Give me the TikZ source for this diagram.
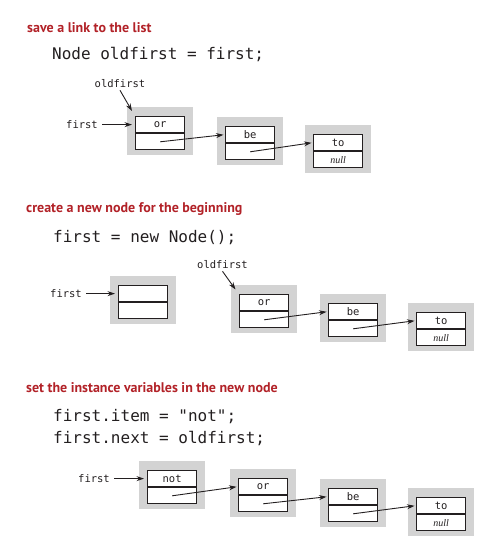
\documentclass[tikz,border=0pt]{standalone}
\usepackage{fontspec}
\usetikzlibrary{arrows.meta,calc}
\newfontfamily\titlefont{PT Sans}
\newfontfamily\codefont{DejaVu Sans Mono}
\newfontfamily\serfont{Liberation Serif}
\definecolor{titlered}{RGB}{178,34,40}
\definecolor{bggray}{RGB}{211,211,211}
\definecolor{ink}{RGB}{35,31,32}
\tikzset{
  titletext/.style={anchor=base west, inner sep=0, font=\titlefont\bfseries\fontsize{14}{16}\selectfont, text=titlered},
  codetext/.style={anchor=base west, inner sep=0, font=\codefont\fontsize{16}{19}\selectfont, text=ink},
  lbl/.style={inner sep=0, font=\codefont\fontsize{10.5}{12}\selectfont, text=ink},
  cell/.style={draw=ink, fill=white, line width=1.2pt, minimum width=49pt, minimum height=16pt, inner sep=0, font=\codefont\fontsize{10.5}{12}\selectfont, text=ink},
  bgbox/.style={fill=bggray, draw=none, inner sep=0, minimum width=66.5pt, minimum height=47.5pt, anchor=north west},
  ptr/.style={draw=ink, line width=0.9pt, -{Stealth[length=7.5pt,width=5pt]}},
}
\newcommand\nulltxt{{\serfont\itshape\fontsize{10}{11}\selectfont null}}
\newcommand\lnode[5]{%
  \node[bgbox] (#1bg) at (#2-8.5,#3-9) {};
  \node[cell, anchor=north west] (#1top) at (#2,#3) {#4};
  \node[cell, anchor=north] (#1bot) at (#1top.south) {#5};
}
\begin{document}
\begin{tikzpicture}[x=1pt,y=-1pt]
\useasboundingbox (0,0) rectangle (503,547);

% ---------- panel 1 ----------
\node[titletext] (t1) at (27,32) {save a link to the list};
\node[codetext] (c1) at (52,59) {Node oldfirst = first;};
\lnode{a1}{135}{116}{or}{}
\lnode{a2}{225}{126}{be}{}
\lnode{a3}{313}{134}{to}{\nulltxt}
\node[lbl] (o1) at (120,84) {oldfirst};
\node[lbl, anchor=east] (f1) at ([xshift=-37pt]a1top.west) {first};
\draw[ptr] ([yshift=-2pt]o1.south) -- ($(a1top.north west)+(-3,-5)$);
\draw[ptr, shorten <=4pt, shorten >=3pt] (f1.east) -- (a1top.west);
\draw[ptr, shorten >=1.5pt] (a1bot.center) -- (a2top.west);
\draw[ptr, shorten >=1.5pt] (a2bot.center) -- (a3top.west);

% ---------- panel 2 ----------
\node[titletext] (t2) at (26,212.5) {create a new node for the beginning};
\node[codetext] (c2) at (53,242) {first = new Node();};
\lnode{b0}{118}{285}{}{}
\lnode{b1}{239}{294}{or}{}
\lnode{b2}{328}{303}{be}{}
\lnode{b3}{416}{312}{to}{\nulltxt}
\node[lbl] (o2) at (222.5,265) {oldfirst};
\node[lbl, anchor=east] (f2) at ([xshift=-36pt]b0top.west) {first};
\draw[ptr] ([yshift=-2pt]o2.south) -- ($(b1top.north west)+(-3.5,-4.5)$);
\draw[ptr, shorten <=4pt, shorten >=3pt] (f2.east) -- (b0top.west);
\draw[ptr, shorten >=1.5pt] (b1bot.center) -- (b2top.west);
\draw[ptr, shorten >=1.5pt] (b2bot.center) -- (b3top.west);

% ---------- panel 3 ----------
\node[titletext] (t3) at (26,392.5) {set the instance variables in the new node};
\node[codetext] (c3a) at (53,421.5) {first.item = "not";};
\node[codetext] (c3b) at (53,443.5) {first.next = oldfirst;};
\lnode{d0}{147}{470}{not}{}
\lnode{d1}{238}{478}{or}{}
\lnode{d2}{328}{488}{be}{}
\lnode{d3}{416}{497}{to}{\nulltxt}
\node[lbl, anchor=east] (f3) at ([xshift=-37pt]d0top.west) {first};
\draw[ptr, shorten <=4pt, shorten >=3pt] (f3.east) -- (d0top.west);
\draw[ptr, shorten >=1.5pt] (d0bot.center) -- (d1top.west);
\draw[ptr, shorten >=1.5pt] (d1bot.center) -- (d2top.west);
\draw[ptr, shorten >=1.5pt] (d2bot.center) -- (d3top.west);
\end{tikzpicture}
\end{document}
